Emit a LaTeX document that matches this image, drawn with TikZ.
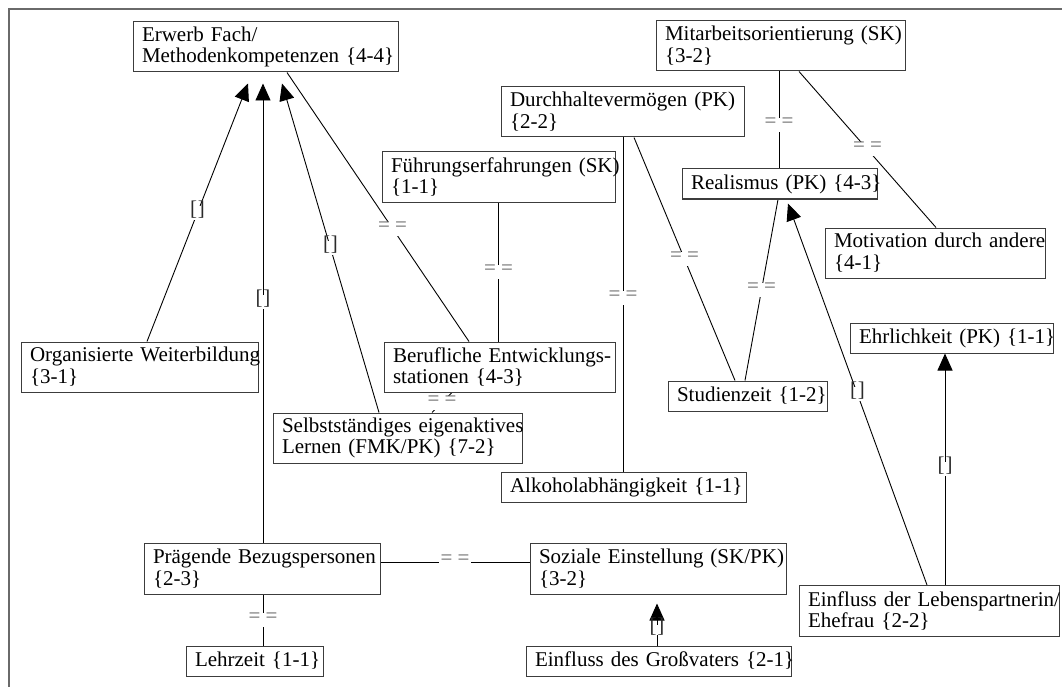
\documentclass[tikz,border=0pt]{standalone}
\usepackage{fontspec}
\setmainfont{Liberation Serif}
\usetikzlibrary{arrows.meta,calc,backgrounds}

\definecolor{boxline}{HTML}{3C3C3C}
\definecolor{eqlabel}{HTML}{6A6A6A}
\definecolor{brlabel}{HTML}{2A2A2A}
\definecolor{framegray}{HTML}{6A6A6A}

\newcommand{\oneline}[1]{\mbox{#1}}

\tikzset{
  box/.style={draw=boxline, line width=1pt, fill=white, inner xsep=9pt,
    inner ysep=0pt, align=left, anchor=center,
    font=\fontsize{21}{21.8}\selectfont},
  link/.style={line width=0.9pt, draw=black},
  arr/.style={link, -{Triangle[length=17pt,width=15pt]}},
  eq/.style={fill=white, inner sep=2pt, text height=0.75em, text depth=0.25em,
    text=eqlabel, font=\fontsize{21}{21.8}\selectfont},
  br/.style={eq, text=brlabel},
}

\begin{document}
\begin{tikzpicture}[x=1pt, y=-1pt]
\useasboundingbox (0,0) rectangle (1062,687);

% outer frame (top and left edges)
\draw[framegray, line width=1.5pt] (9,687) -- (9,9) -- (1062,9);

% concept boxes
\node[box, text width=247pt, minimum height=50pt] (erw) at (265.5,47)
  {\oneline{Erwerb Fach/}\\\oneline{Methodenkompetenzen \{4-4\}}};
\node[box, text width=231pt, minimum height=50pt] (mit) at (780.5,46)
  {\oneline{Mitarbeitsorientierung (SK)}\\\oneline{\{3-2\}}};
\node[box, text width=225pt, minimum height=50pt] (dur) at (622.5,112)
  {\oneline{Durchhaltevermögen (PK)}\\\oneline{\{2-2\}}};
\node[box, text width=215pt, minimum height=50pt] (fue) at (498.5,177)
  {\oneline{Führungserfahrungen (SK)}\\\oneline{\{1-1\}}};
\node[box, text width=177pt, minimum height=30pt] (rea) at (779.5,184)
  {\oneline{Realismus (PK) \{4-3\}}};
\node[box, text width=202pt, minimum height=50pt] (mot) at (935,253)
  {\oneline{Motivation durch andere}\\\oneline{\{4-1\}}};
\node[box, text width=219pt, minimum height=50pt] (org) at (139.5,367)
  {\oneline{Organisierte Weiterbildung}\\\oneline{\{3-1\}}};
\node[box, text width=213pt, minimum height=50pt] (ber) at (499.5,367)
  {\oneline{Berufliche Entwicklungs-}\\\oneline{stationen \{4-3\}}};
\node[box, text width=141pt, minimum height=30pt] (stu) at (747.5,396)
  {\oneline{Studienzeit \{1-2\}}};
\node[box, text width=185pt, minimum height=30pt] (ehr) at (951.5,338)
  {\oneline{Ehrlichkeit (PK) \{1-1\}}};
\node[box, text width=231pt, minimum height=50pt] (sel) at (397.5,438)
  {\oneline{Selbstständiges eigenaktives}\\\oneline{Lernen (FMK/PK) \{7-2\}}};
\node[box, text width=227pt, minimum height=30pt] (alk) at (623.5,487.5)
  {\oneline{Alkoholabhängigkeit \{1-1\}}};
\node[box, text width=218pt, minimum height=51pt] (pra) at (262,568.5)
  {\oneline{Prägende Bezugspersonen}\\\oneline{\{2-3\}}};
\node[box, text width=238pt, minimum height=51pt] (soz) at (658,568.5)
  {\oneline{Soziale Einstellung (SK/PK)}\\\oneline{\{3-2\}}};
\node[box, text width=242pt, minimum height=51pt] (ein) at (929,611)
  {\oneline{Einfluss der Lebenspartnerin/}\\\oneline{Ehefrau \{2-2\}}};
\node[box, text width=119pt, minimum height=30pt] (leh) at (254.5,661)
  {\oneline{Lehrzeit \{1-1\}}};
\node[box, text width=247pt, minimum height=30pt] (gro) at (658.5,661)
  {\oneline{Einfluss des Großvaters \{2-1\}}};

% connectors, kept beneath the boxes
\begin{scope}[on background layer]
  % directed influences
  \draw[arr] ($(org.north)+(7.5,0)$) -- node[br]{[\kern1pt]} ($(erw.south)+(-17.5,11)$);
  \draw[arr] ($(pra.north)+(1,0)$) -- node[br, pos=0.524]{[\kern1pt]} ($(erw.south)+(-2.5,11)$);
  \draw[arr] ($(sel.north)+(-18.5,0)$) -- node[br]{[\kern1pt]} ($(erw.south)+(16.5,11)$);
  \draw[arr] ($(ein.north)+(-2,0)$) -- node[br]{[\kern1pt]} ($(rea.south)+(8.5,4)$);
  \draw[arr] ($(ein.north)+(16,0)$) -- node[br]{[\kern1pt]} ($(ehr.south)+(-6.5,0)$);
  \draw[arr] ($(gro.north)+(-1.5,0)$) -- node[br, inner ysep=0pt, pos=0.36]{[\kern1pt]} ($(soz.south)+(-1,9)$);

  % undirected associations
  \draw[link] ($(erw.south)+(21.5,0)$) -- node[eq, pos=0.58]{= =} ($(ber.north)+(-30.5,0)$);
  \draw[link] (fue.south) -- node[eq]{= =} ($(ber.north)+(-1,0)$);
  \draw[link] ($(ber.south)+(-47.5,0)$) -- node[eq]{= =} ($(sel.north)+(34.5,0)$);
  \draw[link] ($(dur.south)+(0.5,0)$) -- node[eq, pos=0.48]{= =} ($(alk.north)+(-0.5,0)$);
  \draw[link] ($(dur.south)+(11.5,0)$) -- node[eq]{= =} ($(stu.north)+(-12.5,0)$);
  \draw[link] ($(mit.south)+(-1.5,0)$) -- node[eq, pos=0.55]{= =} ($(rea.north)+(-0.5,0)$);
  \draw[link] ($(mit.south)+(18.5,0)$) -- node[eq]{= =} ($(mot.north)+(1,0)$);
  \draw[link] ($(rea.south)+(-1.5,0)$) -- node[eq]{= =} ($(stu.north)+(-2.5,0)$);
  \draw[link] ($(pra.south)+(1,0)$) -- node[eq]{= =} ($(leh.north)+(8.5,0)$);
  \draw[link] ($(pra.east)+(0,-6.5)$) -- node[eq]{= =} ($(soz.west)+(0,-6.5)$);
\end{scope}
\end{tikzpicture}
\end{document}
